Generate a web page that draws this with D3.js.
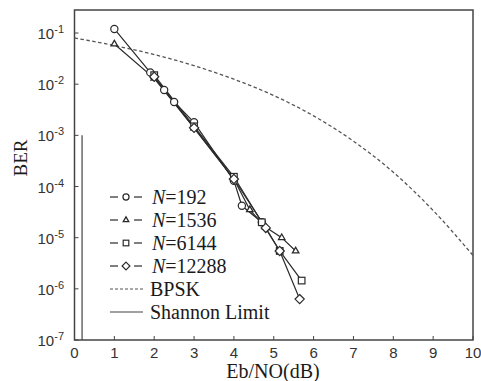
<!DOCTYPE html>
<html>
<head>
<meta charset="utf-8">
<script src="https://cdn.jsdelivr.net/npm/d3@7"></script>
<style>
  body { margin: 0; background: #fff; }
  svg { display: block; }
</style>
</head>
<body>
<div id="chart"></div>
<script>
// values
const xTicks = [0, 1, 2, 3, 4, 5, 6, 7, 8, 9, 10];
const yExponents = [-1, -2, -3, -4, -5, -6, -7];

const n192X = [1.0, 1.9, 2.25, 2.5, 3.0, 4.0, 4.2, 4.7];
const n192Y = [0.12, 0.017, 0.0077, 0.0045, 0.0018, 1.3e-4, 4.2e-5, 2.0e-5];

const n1536X = [1.0, 2.0, 3.0, 4.0, 4.4, 4.8, 5.2, 5.55];
const n1536Y = [0.061, 0.013, 0.0014, 1.4e-4, 3.5e-5, 1.6e-5, 1.0e-5, 5.5e-6];

const n6144X = [2.0, 3.0, 4.0, 4.7, 5.15, 5.7];
const n6144Y = [0.015, 0.0015, 1.55e-4, 2.0e-5, 5.5e-6, 1.45e-6];

const n12288X = [2.0, 3.0, 4.0, 4.8, 5.15, 5.65];
const n12288Y = [0.014, 0.0014, 1.4e-4, 1.55e-5, 5.5e-6, 6.3e-7];

const bpskX = [0, 1, 2, 3, 4, 5, 6, 7, 8, 9, 10];
const bpskY = [0.08, 0.057, 0.038, 0.023, 0.0125, 0.006, 0.0024, 7.7e-4, 1.9e-4, 3.4e-5, 4.5e-6];

const shannonX = [0.19, 0.19];
const shannonY = [1e-3, 1e-7];

const legendLabels = ['=192', '=1536', '=6144', '=12288', 'BPSK', 'Shannon Limit'];

const W = 481, H = 381;
const plotL = 74.5, plotR = 473, plotT = 10, plotB = 340;
const ink = '#2a2a2a';

const svg = d3.select('#chart').append('svg')
  .attr('width', W)
  .attr('height', H);

const x = d3.scaleLinear().domain([0, 10]).range([plotL, plotR]);
const y = d3.scaleLog().domain([1e-7, Math.pow(10, -0.55)]).range([plotB, plotT]);

// frame
svg.append('rect')
  .attr('x', plotL).attr('y', plotT)
  .attr('width', plotR - plotL).attr('height', plotB - plotT)
  .attr('fill', 'none').attr('stroke', '#444').attr('stroke-width', 1.5);

// x ticks (inward) and labels
const xAxis = svg.append('g').attr('font-family', 'Liberation Sans, Arial, sans-serif').attr('font-size', 15).attr('fill', '#333');
xTicks.forEach(t => {
  xAxis.append('line')
    .attr('x1', x(t)).attr('x2', x(t))
    .attr('y1', plotB).attr('y2', plotB - 4)
    .attr('stroke', '#444');
  xAxis.append('text')
    .attr('x', x(t)).attr('y', 358)
    .attr('text-anchor', 'middle')
    .text(t);
});

// y ticks (inward) and labels
const yAxis = svg.append('g').attr('font-family', 'Liberation Sans, Arial, sans-serif').attr('fill', '#333');
yExponents.forEach(e => {
  const v = Math.pow(10, e);
  yAxis.append('line')
    .attr('x1', plotL).attr('x2', plotL + 4)
    .attr('y1', y(v)).attr('y2', y(v))
    .attr('stroke', '#444');
  const txt = yAxis.append('text')
    .attr('x', 64).attr('y', y(v) + 6)
    .attr('text-anchor', 'end')
    .attr('font-size', 15);
  txt.append('tspan').text('10');
  txt.append('tspan').attr('dy', -6).attr('font-size', 11).text(String(e));
});

// axis titles
svg.append('text')
  .attr('transform', `translate(27,158) rotate(-90)`)
  .attr('text-anchor', 'middle')
  .attr('font-family', 'Liberation Serif, Times New Roman, serif')
  .attr('font-size', 19)
  .attr('fill', '#1a1a1a')
  .text('BER');

svg.append('text')
  .attr('x', 273).attr('y', 378)
  .attr('text-anchor', 'middle')
  .attr('font-family', 'Liberation Serif, Times New Roman, serif')
  .attr('font-size', 20)
  .attr('fill', '#1a1a1a')
  .text('Eb/NO(dB)');

const plot = svg.append('g');

// BPSK dashed curve
const bpsk = bpskX.map((v, i) => [v, bpskY[i]]);
plot.append('path')
  .datum(bpsk)
  .attr('d', d3.line().x(d => x(d[0])).y(d => y(d[1])).curve(d3.curveMonotoneX))
  .attr('fill', 'none')
  .attr('stroke', '#555')
  .attr('stroke-width', 1.3)
  .attr('stroke-dasharray', '3.5,2.5');

// Shannon limit
plot.append('path')
  .datum(shannonX.map((v, i) => [v, shannonY[i]]))
  .attr('d', d3.line().x(d => x(d[0])).y(d => y(d[1])))
  .attr('fill', 'none')
  .attr('stroke', '#444')
  .attr('stroke-width', 1.2);

const series = [
  { xs: n192X, ys: n192Y, shape: 'circle' },
  { xs: n1536X, ys: n1536Y, shape: 'triangle' },
  { xs: n6144X, ys: n6144Y, shape: 'square' },
  { xs: n12288X, ys: n12288Y, shape: 'diamond' }
];

function marker(g, shape, cx, cy, k) {
  const s = k || 1;
  if (shape === 'circle') {
    g.append('circle').attr('cx', cx).attr('cy', cy).attr('r', 3.6 * s)
      .attr('fill', '#fff').attr('stroke', ink).attr('stroke-width', 1.2);
  } else if (shape === 'triangle') {
    g.append('path')
      .attr('d', d3.symbol(d3.symbolTriangle, 18 * s * s)())
      .attr('transform', `translate(${cx},${cy})`)
      .attr('fill', '#fff').attr('stroke', ink).attr('stroke-width', 1.3);
  } else if (shape === 'square') {
    g.append('rect').attr('x', cx - 3.3 * s).attr('y', cy - 3.3 * s)
      .attr('width', 6.6 * s).attr('height', 6.6 * s)
      .attr('fill', '#fff').attr('stroke', ink).attr('stroke-width', 1.2);
  } else {
    const r = 4.6 * s;
    g.append('path')
      .attr('d', `M${cx},${cy - r}L${cx + r},${cy}L${cx},${cy + r}L${cx - r},${cy}Z`)
      .attr('fill', '#fff').attr('stroke', ink).attr('stroke-width', 1.2);
  }
}

series.forEach(s => {
  const pts = s.xs.map((v, i) => [v, s.ys[i]]);
  plot.append('path')
    .datum(pts)
    .attr('d', d3.line().x(d => x(d[0])).y(d => y(d[1])))
    .attr('fill', 'none')
    .attr('stroke', ink)
    .attr('stroke-width', 1.2);
});
series.forEach(s => {
  s.xs.forEach((v, i) => marker(plot, s.shape, x(v), y(s.ys[i])));
});

// legend
const legend = svg.append('g');
const rowY = [197, 220, 243, 266, 289, 312];
legendLabels.forEach((lab, i) => {
  const ry = rowY[i];
  if (i < 4) {
    legend.append('line').attr('x1', 110).attr('x2', 118).attr('y1', ry).attr('y2', ry)
      .attr('stroke', ink).attr('stroke-width', 1.2);
    legend.append('line').attr('x1', 134).attr('x2', 142).attr('y1', ry).attr('y2', ry)
      .attr('stroke', ink).attr('stroke-width', 1.2);
    marker(legend, series[i].shape, 126, ry, 0.85);
    const t = legend.append('text')
      .attr('x', 152).attr('y', ry + 7)
      .attr('font-family', 'Liberation Serif, Times New Roman, serif')
      .attr('font-size', 20).attr('fill', '#1a1a1a');
    t.append('tspan').attr('font-style', 'italic').text('N');
    t.append('tspan').text(lab);
  } else {
    legend.append('line').attr('x1', 110).attr('x2', 143).attr('y1', ry).attr('y2', ry)
      .attr('stroke', i === 4 ? '#555' : '#444')
      .attr('stroke-width', 1.2)
      .attr('stroke-dasharray', i === 4 ? '3,2' : null);
    legend.append('text')
      .attr('x', 150).attr('y', ry + 7)
      .attr('font-family', 'Liberation Serif, Times New Roman, serif')
      .attr('font-size', 20).attr('fill', '#1a1a1a')
      .text(lab);
  }
});
</script>
</body>
</html>
